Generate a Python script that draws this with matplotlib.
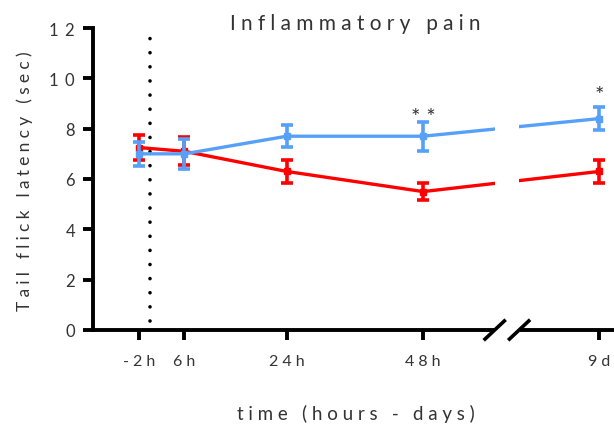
import numpy as np
import matplotlib
matplotlib.use("Agg")
import matplotlib.pyplot as plt
import matplotlib.transforms as mtransforms

plt.rcParams['font.family'] = ['Lato', 'DejaVu Sans']

# time points (x positions in hours; 9d sits past the axis break)
labels = ['-2h', '6h', '24h', '48h', '9d']
pos = [-2, 6, 24, 48, 79]

# tail flick latency, mean and SEM (sec)
red_mean = [7.25, 7.1, 6.3, 5.5, 6.3]
red_sem = [0.5, 0.55, 0.45, 0.35, 0.45]
blue_mean = [7.0, 7.0, 7.7, 7.7, 8.4]
blue_sem = [0.47, 0.6, 0.43, 0.57, 0.45]

# significance marks above the blue series: index, text, height
stars = [(3, '* *', 8.45), (4, '*', 9.35)]

RED = '#ff0000'
BLUE = '#56a0f7'
TXT = '#333333'
brk = (60.6, 64.9)   # axis break, in hours


def spaced(s, n=2):
    # wide letter spacing
    return ('\u2009' * n).join(s)


fig = plt.figure(figsize=(6.14, 4.27), dpi=100)
ax = fig.add_axes([93 / 614, 1 - 331 / 427, 1 - 93 / 614, 302 / 427])

for mean, sem, col, z in [(red_mean, red_sem, RED, 3), (blue_mean, blue_sem, BLUE, 4)]:
    ax.errorbar(pos, mean, yerr=sem, color=col, lw=2.4, elinewidth=2.6,
                capsize=4.5, capthick=2.6, marker='s', ms=4, zorder=z)

# gap in the lines at the break
ax.axvspan(brk[0], brk[1], ymin=0.01, ymax=1, color='white', zorder=5, lw=0)

for i, s, y in stars:
    ax.text(pos[i], y, s, ha='center', va='center', fontsize=16, color=TXT)

# injection time
ax.axvline(0, ymin=0.03, ymax=1, color='black', lw=2.6,
           linestyle=(0, (0.01, 3.9)), dash_capstyle='round', zorder=2)

ax.set_xlim(-10.1, 81.6)
ax.set_ylim(0, 12)
ax.set_yticks(np.arange(0, 13, 2))
ax.set_yticklabels([spaced(str(v), 3) for v in range(0, 13, 2)])
ax.set_xticks(pos)
ax.set_xticklabels([spaced(l) for l in labels])

for side in ['top', 'right', 'bottom']:
    ax.spines[side].set_visible(False)
ax.spines['left'].set_linewidth(2.8)
ax.tick_params(axis='both', width=2.8, length=7, color='black',
               labelcolor=TXT)
ax.tick_params(axis='y', labelsize=12, pad=6)
ax.tick_params(axis='x', labelsize=11.5, pad=10)

# bottom axis drawn in two pieces with break marks
trans = mtransforms.blended_transform_factory(ax.transData, ax.transAxes)
ax.plot([-10.1, brk[0] - 0.2], [0, 0], color='black', lw=2.8, transform=trans,
        clip_on=False, solid_capstyle='butt', zorder=6)
ax.plot([brk[1] + 0.2, 81.6], [0, 0], color='black', lw=2.8, transform=trans,
        clip_on=False, solid_capstyle='butt', zorder=6)
for b in brk:
    ax.plot([b - 1.7, b + 1.7], [-0.03, 0.03], color='black', lw=2.6,
            transform=trans, clip_on=False, zorder=6)

fig.text(355 / 614, 1 - 24 / 427, spaced('Inflammatory pain'), ha='center',
         va='center', fontsize=15, color=TXT)
fig.text(25 / 614, 1 - 181 / 427, spaced('Tail flick latency (sec)'),
         rotation=90, ha='center', va='center', fontsize=12.5, color=TXT)
fig.text(356 / 614, 1 - 414 / 427, spaced('time (hours - days)'), ha='center',
         va='center', fontsize=13.5, color=TXT)

fig.savefig('out.png', dpi=100)
